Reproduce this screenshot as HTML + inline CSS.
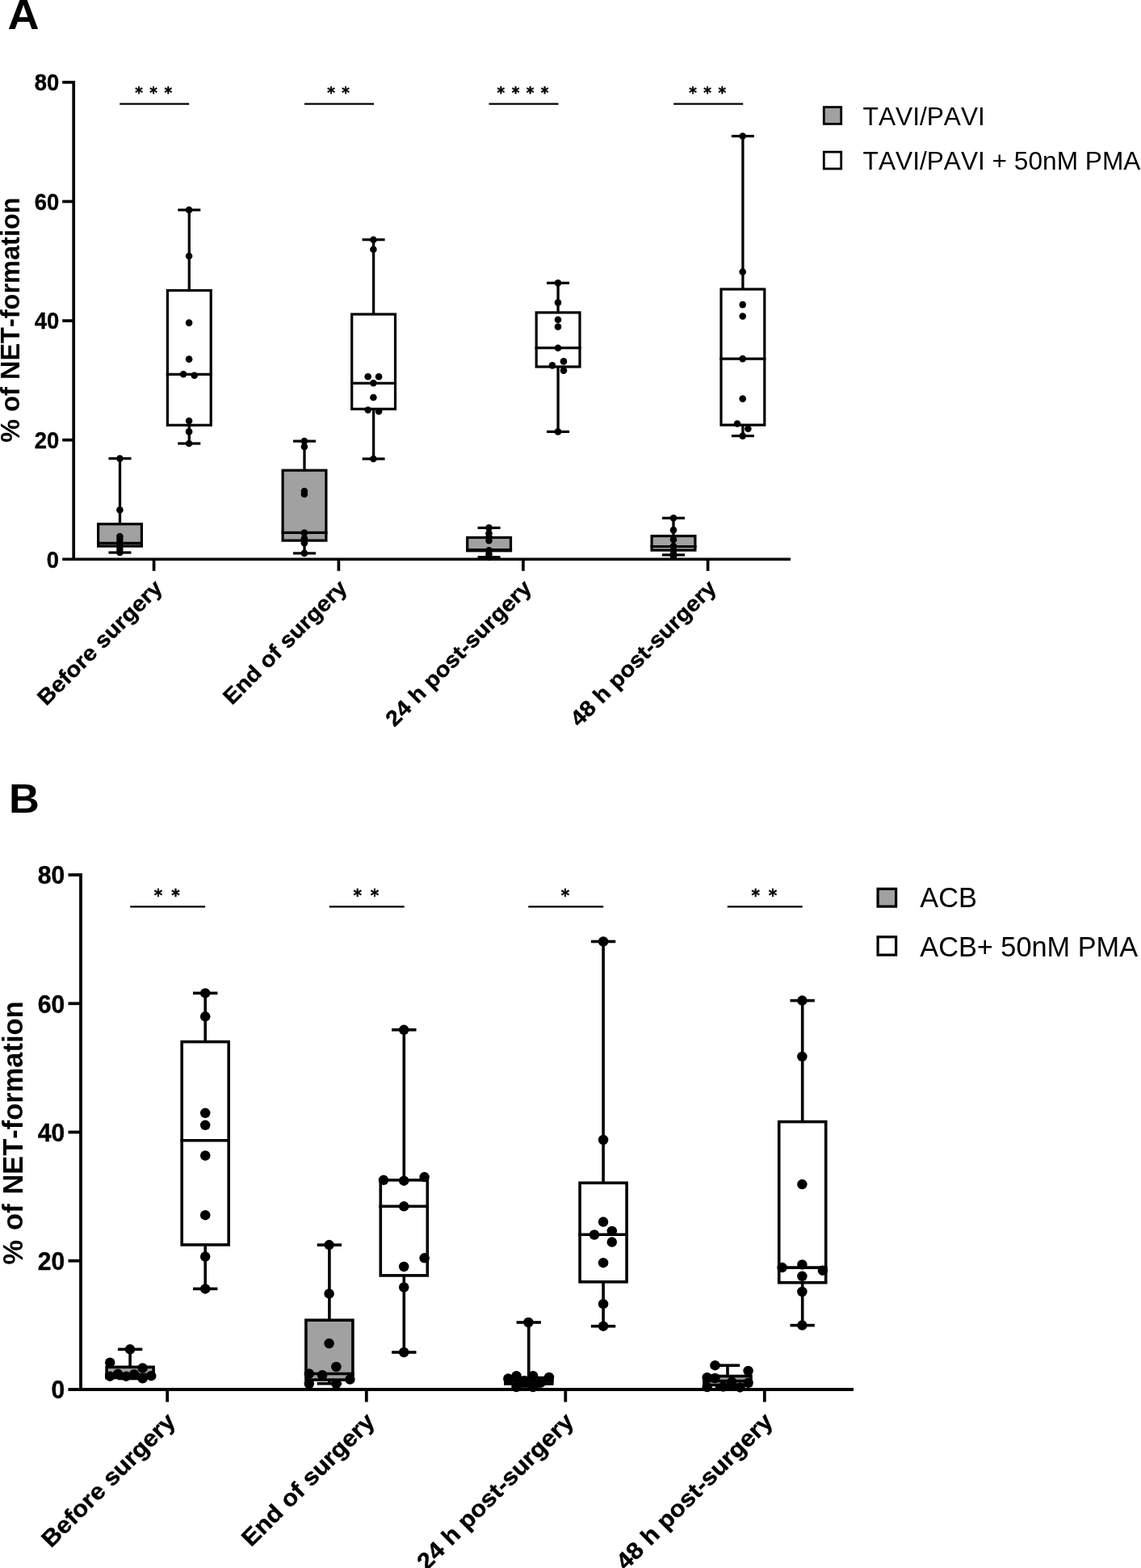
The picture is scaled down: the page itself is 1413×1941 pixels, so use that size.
<!DOCTYPE html>
<html lang="en">
<head>
<meta charset="utf-8">
<title>NET-formation box plots</title>
<style>
html,body{margin:0;padding:0;background:#fff;}
body{width:1413px;height:1941px;overflow:hidden;}
svg{display:block;}
text{font-family:"Liberation Sans",sans-serif;fill:#000;font-kerning:none;white-space:pre;}
.b{font-weight:bold;}
.xl{stroke:#000;stroke-width:0.4px;}
.tk{stroke:#000;stroke-width:0.4px;}
.star{font-family:"DejaVu Sans","Liberation Sans",sans-serif;font-weight:bold;stroke:#000;stroke-width:0.45px;}
g.ink{stroke:#000;fill:none;stroke-linecap:butt;}
g.dots circle{fill:#000;stroke:none;}
</style>
</head>
<body>
<svg width="1413" height="1941" viewBox="0 0 1413 1941">
<rect x="0" y="0" width="1413" height="1941" fill="#fff"/>

<!-- Panel A -->
<text class="b" font-size="52" transform="translate(9.6,36.3) scale(1.04,1)">A</text>
<g class="ink">
<line x1="91.2" y1="100" x2="91.2" y2="694.1" stroke-width="3.7"/>
<line x1="77.2" y1="692.25" x2="979" y2="692.25" stroke-width="3.7"/>
<line x1="77.2" y1="544.65" x2="91.2" y2="544.65" stroke-width="3.7"/>
<line x1="77.2" y1="397.05" x2="91.2" y2="397.05" stroke-width="3.7"/>
<line x1="77.2" y1="249.45" x2="91.2" y2="249.45" stroke-width="3.7"/>
<line x1="77.2" y1="101.85" x2="91.2" y2="101.85" stroke-width="3.7"/>
<line x1="190.6" y1="692.25" x2="190.6" y2="706.75" stroke-width="3.7"/>
<line x1="419.4" y1="692.25" x2="419.4" y2="706.75" stroke-width="3.7"/>
<line x1="647.9" y1="692.25" x2="647.9" y2="706.75" stroke-width="3.7"/>
<line x1="876.6" y1="692.25" x2="876.6" y2="706.75" stroke-width="3.7"/>
</g>
<text class="b tk" font-size="29.6" text-anchor="end" transform="translate(73.1,702.65) scale(0.925,1)">0</text>
<text class="b tk" font-size="29.6" text-anchor="end" transform="translate(73.1,555.05) scale(0.925,1)">20</text>
<text class="b tk" font-size="29.6" text-anchor="end" transform="translate(73.1,407.45) scale(0.925,1)">40</text>
<text class="b tk" font-size="29.6" text-anchor="end" transform="translate(73.1,259.85) scale(0.925,1)">60</text>
<text class="b tk" font-size="29.6" text-anchor="end" transform="translate(73.1,112.25) scale(0.925,1)">80</text>
<text class="b" font-size="32.5" text-anchor="middle" transform="translate(24.2,396) rotate(-90)">% of NET-formation</text>
<g class="ink">
<line x1="148.5" y1="567.6" x2="148.5" y2="684" stroke-width="3.3"/>
<line x1="134.5" y1="567.6" x2="162.5" y2="567.6" stroke-width="3.2"/>
<line x1="134.5" y1="684" x2="162.5" y2="684" stroke-width="3.2"/>
<rect x="121.6" y="648.7" width="53.8" height="27.4" fill="#a1a1a1" stroke-width="3.2"/>
<line x1="120" y1="672.3" x2="177" y2="672.3" stroke-width="3.2"/>
<line x1="234.3" y1="259.9" x2="234.3" y2="549" stroke-width="3.3"/>
<line x1="220.3" y1="259.9" x2="248.3" y2="259.9" stroke-width="3.2"/>
<line x1="220.3" y1="549" x2="248.3" y2="549" stroke-width="3.2"/>
<rect x="207.4" y="359.5" width="53.8" height="166.8" fill="#fff" stroke-width="3.2"/>
<line x1="205.8" y1="463.3" x2="262.8" y2="463.3" stroke-width="3.2"/>
<line x1="377" y1="546.1" x2="377" y2="684.9" stroke-width="3.3"/>
<line x1="363" y1="546.1" x2="391" y2="546.1" stroke-width="3.2"/>
<line x1="363" y1="684.9" x2="391" y2="684.9" stroke-width="3.2"/>
<rect x="350.1" y="582.2" width="53.8" height="86.9" fill="#a1a1a1" stroke-width="3.2"/>
<line x1="348.5" y1="659.3" x2="405.5" y2="659.3" stroke-width="3.2"/>
<line x1="462.6" y1="296.7" x2="462.6" y2="568" stroke-width="3.3"/>
<line x1="448.6" y1="296.7" x2="476.6" y2="296.7" stroke-width="3.2"/>
<line x1="448.6" y1="568" x2="476.6" y2="568" stroke-width="3.2"/>
<rect x="435.7" y="389" width="53.8" height="117.3" fill="#fff" stroke-width="3.2"/>
<line x1="434.1" y1="474.3" x2="491.1" y2="474.3" stroke-width="3.2"/>
<line x1="605.6" y1="653.4" x2="605.6" y2="689.7" stroke-width="3.3"/>
<line x1="591.6" y1="653.4" x2="619.6" y2="653.4" stroke-width="3.2"/>
<line x1="591.6" y1="689.7" x2="619.6" y2="689.7" stroke-width="3.2"/>
<rect x="578.7" y="665.4" width="53.8" height="16.4" fill="#a1a1a1" stroke-width="3.2"/>
<line x1="577.1" y1="680.5" x2="634.1" y2="680.5" stroke-width="3.2"/>
<line x1="691.1" y1="350.3" x2="691.1" y2="534.4" stroke-width="3.3"/>
<line x1="677.1" y1="350.3" x2="705.1" y2="350.3" stroke-width="3.2"/>
<line x1="677.1" y1="534.4" x2="705.1" y2="534.4" stroke-width="3.2"/>
<rect x="664.2" y="386.9" width="53.8" height="67.1" fill="#fff" stroke-width="3.2"/>
<line x1="662.6" y1="430.7" x2="719.6" y2="430.7" stroke-width="3.2"/>
<line x1="834" y1="641.3" x2="834" y2="686.9" stroke-width="3.3"/>
<line x1="820" y1="641.3" x2="848" y2="641.3" stroke-width="3.2"/>
<line x1="820" y1="686.9" x2="848" y2="686.9" stroke-width="3.2"/>
<rect x="807.1" y="663.5" width="53.8" height="17.6" fill="#a1a1a1" stroke-width="3.2"/>
<line x1="805.5" y1="676.5" x2="862.5" y2="676.5" stroke-width="3.2"/>
<line x1="919.9" y1="168.5" x2="919.9" y2="539.6" stroke-width="3.3"/>
<line x1="905.9" y1="168.5" x2="933.9" y2="168.5" stroke-width="3.2"/>
<line x1="905.9" y1="539.6" x2="933.9" y2="539.6" stroke-width="3.2"/>
<rect x="893" y="358" width="53.8" height="168.1" fill="#fff" stroke-width="3.2"/>
<line x1="891.4" y1="444.1" x2="948.4" y2="444.1" stroke-width="3.2"/>
</g>
<g class="dots">
<circle cx="148.4" cy="567.6" r="4.3"/>
<circle cx="148.4" cy="631.3" r="4.3"/>
<circle cx="148.4" cy="664" r="4.3"/>
<circle cx="148.4" cy="668" r="4.3"/>
<circle cx="148.4" cy="672" r="4.3"/>
<circle cx="148.4" cy="676" r="4.3"/>
<circle cx="148.4" cy="680" r="4.3"/>
<circle cx="148.4" cy="684" r="4.3"/>
<circle cx="234.1" cy="259.9" r="4.3"/>
<circle cx="234.1" cy="317" r="4.3"/>
<circle cx="234.1" cy="399.6" r="4.3"/>
<circle cx="234.1" cy="444.6" r="4.3"/>
<circle cx="227.1" cy="463.3" r="4.3"/>
<circle cx="240.7" cy="464.8" r="4.3"/>
<circle cx="234.1" cy="521" r="4.3"/>
<circle cx="234.1" cy="534.4" r="4.3"/>
<circle cx="234.1" cy="549" r="4.3"/>
<circle cx="376.9" cy="546.1" r="4.3"/>
<circle cx="376.9" cy="553" r="4.3"/>
<circle cx="376.9" cy="608.1" r="4.3"/>
<circle cx="376.9" cy="611.7" r="4.3"/>
<circle cx="376.9" cy="659.6" r="4.3"/>
<circle cx="376.9" cy="666.5" r="4.3"/>
<circle cx="376.9" cy="672.3" r="4.3"/>
<circle cx="376.9" cy="684.9" r="4.3"/>
<circle cx="462.4" cy="296.7" r="4.3"/>
<circle cx="462.4" cy="308.8" r="4.3"/>
<circle cx="455.7" cy="466.3" r="4.3"/>
<circle cx="469.1" cy="466.3" r="4.3"/>
<circle cx="462.4" cy="474.3" r="4.3"/>
<circle cx="462.4" cy="492" r="4.3"/>
<circle cx="455.7" cy="507.5" r="4.3"/>
<circle cx="469.1" cy="509.3" r="4.3"/>
<circle cx="462.4" cy="568" r="4.3"/>
<circle cx="605.5" cy="653.4" r="4.3"/>
<circle cx="605.5" cy="660.2" r="4.3"/>
<circle cx="605.5" cy="664.7" r="4.3"/>
<circle cx="605.5" cy="669.1" r="4.3"/>
<circle cx="605.5" cy="681.2" r="4.3"/>
<circle cx="605.5" cy="686" r="4.3"/>
<circle cx="605.5" cy="690" r="4.3"/>
<circle cx="691" cy="350.3" r="4.3"/>
<circle cx="691" cy="374.6" r="4.3"/>
<circle cx="691" cy="395.7" r="4.3"/>
<circle cx="691" cy="404.5" r="4.3"/>
<circle cx="691" cy="430.7" r="4.3"/>
<circle cx="698" cy="447.4" r="4.3"/>
<circle cx="684" cy="452.4" r="4.3"/>
<circle cx="698" cy="458.6" r="4.3"/>
<circle cx="691" cy="534.4" r="4.3"/>
<circle cx="834" cy="641.3" r="4.3"/>
<circle cx="834" cy="656.1" r="4.3"/>
<circle cx="834" cy="667.9" r="4.3"/>
<circle cx="834" cy="676" r="4.3"/>
<circle cx="834" cy="680.7" r="4.3"/>
<circle cx="834" cy="685.4" r="4.3"/>
<circle cx="834" cy="688.5" r="4.3"/>
<circle cx="919.7" cy="168.5" r="4.3"/>
<circle cx="919.7" cy="336.5" r="4.3"/>
<circle cx="919.7" cy="377.1" r="4.3"/>
<circle cx="919.7" cy="391.5" r="4.3"/>
<circle cx="919.7" cy="444.1" r="4.3"/>
<circle cx="919.7" cy="493.6" r="4.3"/>
<circle cx="913" cy="524.5" r="4.3"/>
<circle cx="926.4" cy="530.7" r="4.3"/>
<circle cx="919.7" cy="539.6" r="4.3"/>
</g>
<g class="ink">
<line x1="148.2" y1="128.6" x2="234.2" y2="128.6" stroke-width="2.1"/>
<line x1="377" y1="128.6" x2="463" y2="128.6" stroke-width="2.1"/>
<line x1="605.5" y1="128.6" x2="691.5" y2="128.6" stroke-width="2.1"/>
<line x1="834.2" y1="128.6" x2="920.2" y2="128.6" stroke-width="2.1"/>
</g>
<text class="star" x="172.15 181.17 190.2 199.22 208.25" y="0" font-size="18.4" text-anchor="middle" transform="translate(0,120.9) scale(1,1.05)">* * *</text>
<text class="star" x="409.98 419 428.02" y="0" font-size="18.4" text-anchor="middle" transform="translate(0,120.9) scale(1,1.05)">* *</text>
<text class="star" x="620.42 629.45 638.48 647.5 656.52 665.55 674.58" y="0" font-size="18.4" text-anchor="middle" transform="translate(0,120.9) scale(1,1.05)">* * * *</text>
<text class="star" x="858.15 867.18 876.2 885.23 894.25" y="0" font-size="18.4" text-anchor="middle" transform="translate(0,120.9) scale(1,1.05)">* * *</text>
<text class="b xl" font-size="27" text-anchor="end" transform="translate(202.6,729.3) rotate(-45) scale(1.07,1)">Before surgery</text>
<text class="b xl" font-size="27" text-anchor="end" transform="translate(431.4,729.3) rotate(-45) scale(1.07,1)">End of surgery</text>
<text class="b xl" font-size="27" text-anchor="end" transform="translate(659.9,729.3) rotate(-45) scale(1.07,1)">24 h post-surgery</text>
<text class="b xl" font-size="27" text-anchor="end" transform="translate(888.6,729.3) rotate(-45) scale(1.07,1)">48 h post-surgery</text>
<g class="ink">
<rect x="1020.3" y="132.6" width="21.4" height="20.8" fill="#a1a1a1" stroke-width="2.8"/>
<rect x="1020.3" y="188.1" width="21.4" height="20.8" fill="#fff" stroke-width="2.8"/>
</g>
<text x="1068.6" y="154.7" font-size="31.65">TAVI/PAVI</text>
<text x="1068.6" y="210.2" font-size="31.65">TAVI/PAVI + 50nM PMA</text>
<!-- Panel B -->
<text class="b" font-size="49.5" transform="translate(11,1006.2) scale(1.06,1)">B</text>
<g class="ink">
<line x1="100" y1="1081.1" x2="100" y2="1721.9" stroke-width="3.8"/>
<line x1="84.5" y1="1720" x2="1057" y2="1720" stroke-width="3.8"/>
<line x1="84.5" y1="1560.75" x2="100" y2="1560.75" stroke-width="3.8"/>
<line x1="84.5" y1="1401.5" x2="100" y2="1401.5" stroke-width="3.8"/>
<line x1="84.5" y1="1242.25" x2="100" y2="1242.25" stroke-width="3.8"/>
<line x1="84.5" y1="1083" x2="100" y2="1083" stroke-width="3.8"/>
<line x1="207.2" y1="1720" x2="207.2" y2="1735.5" stroke-width="3.8"/>
<line x1="453.8" y1="1720" x2="453.8" y2="1735.5" stroke-width="3.8"/>
<line x1="700.3" y1="1720" x2="700.3" y2="1735.5" stroke-width="3.8"/>
<line x1="946.8" y1="1720" x2="946.8" y2="1735.5" stroke-width="3.8"/>
</g>
<text class="b tk" font-size="32" text-anchor="end" transform="translate(80.2,1731.46) scale(0.94,1)">0</text>
<text class="b tk" font-size="32" text-anchor="end" transform="translate(80.2,1572.21) scale(0.94,1)">20</text>
<text class="b tk" font-size="32" text-anchor="end" transform="translate(80.2,1412.96) scale(0.94,1)">40</text>
<text class="b tk" font-size="32" text-anchor="end" transform="translate(80.2,1253.71) scale(0.94,1)">60</text>
<text class="b tk" font-size="32" text-anchor="end" transform="translate(80.2,1094.46) scale(0.94,1)">80</text>
<text class="b" font-size="36" text-anchor="middle" style="word-spacing:2.4px" transform="translate(28.3,1402.4) rotate(-90) scale(0.957,1)">% of NET-formation</text>
<g class="ink">
<line x1="161.1" y1="1670.3" x2="161.1" y2="1706.5" stroke-width="3.6"/>
<line x1="145.9" y1="1670.3" x2="176.3" y2="1670.3" stroke-width="3.6"/>
<line x1="145.9" y1="1706.5" x2="176.3" y2="1706.5" stroke-width="3.6"/>
<rect x="132.1" y="1692.3" width="58" height="13.2" fill="#a1a1a1" stroke-width="3.6"/>
<line x1="130.3" y1="1701.5" x2="191.9" y2="1701.5" stroke-width="3.6"/>
<line x1="254.2" y1="1229.4" x2="254.2" y2="1595.4" stroke-width="3.6"/>
<line x1="239" y1="1229.4" x2="269.4" y2="1229.4" stroke-width="3.6"/>
<line x1="239" y1="1595.4" x2="269.4" y2="1595.4" stroke-width="3.6"/>
<rect x="225.2" y="1289.6" width="58" height="251.3" fill="#fff" stroke-width="3.6"/>
<line x1="223.4" y1="1411.8" x2="285" y2="1411.8" stroke-width="3.6"/>
<line x1="407.9" y1="1541.1" x2="407.9" y2="1712.7" stroke-width="3.6"/>
<line x1="392.7" y1="1541.1" x2="423.1" y2="1541.1" stroke-width="3.6"/>
<line x1="392.7" y1="1712.7" x2="423.1" y2="1712.7" stroke-width="3.6"/>
<rect x="378.9" y="1634.2" width="58" height="73.9" fill="#a1a1a1" stroke-width="3.6"/>
<line x1="377.1" y1="1700.5" x2="438.7" y2="1700.5" stroke-width="3.6"/>
<line x1="500.3" y1="1274.8" x2="500.3" y2="1674" stroke-width="3.6"/>
<line x1="485.1" y1="1274.8" x2="515.5" y2="1274.8" stroke-width="3.6"/>
<line x1="485.1" y1="1674" x2="515.5" y2="1674" stroke-width="3.6"/>
<rect x="471.3" y="1460.8" width="58" height="118.1" fill="#fff" stroke-width="3.6"/>
<line x1="469.5" y1="1493.3" x2="531.1" y2="1493.3" stroke-width="3.6"/>
<line x1="654.8" y1="1637" x2="654.8" y2="1716" stroke-width="3.6"/>
<line x1="639.6" y1="1637" x2="670" y2="1637" stroke-width="3.6"/>
<line x1="639.6" y1="1716" x2="670" y2="1716" stroke-width="3.6"/>
<rect x="625.8" y="1705.5" width="58" height="7.5" fill="#a1a1a1" stroke-width="3.6"/>
<line x1="624" y1="1709.5" x2="685.6" y2="1709.5" stroke-width="3.6"/>
<line x1="747.1" y1="1165.5" x2="747.1" y2="1641.7" stroke-width="3.6"/>
<line x1="731.9" y1="1165.5" x2="762.3" y2="1165.5" stroke-width="3.6"/>
<line x1="731.9" y1="1641.7" x2="762.3" y2="1641.7" stroke-width="3.6"/>
<rect x="718.1" y="1464.3" width="58" height="122.5" fill="#fff" stroke-width="3.6"/>
<line x1="716.3" y1="1528.3" x2="777.9" y2="1528.3" stroke-width="3.6"/>
<line x1="901" y1="1690.2" x2="901" y2="1716.5" stroke-width="3.6"/>
<line x1="885.8" y1="1690.2" x2="916.2" y2="1690.2" stroke-width="3.6"/>
<line x1="885.8" y1="1716.5" x2="916.2" y2="1716.5" stroke-width="3.6"/>
<rect x="872" y="1703.5" width="58" height="11" fill="#a1a1a1" stroke-width="3.6"/>
<line x1="870.2" y1="1709.5" x2="931.8" y2="1709.5" stroke-width="3.6"/>
<line x1="993.7" y1="1238.6" x2="993.7" y2="1640.6" stroke-width="3.6"/>
<line x1="978.5" y1="1238.6" x2="1008.9" y2="1238.6" stroke-width="3.6"/>
<line x1="978.5" y1="1640.6" x2="1008.9" y2="1640.6" stroke-width="3.6"/>
<rect x="964.7" y="1388.6" width="58" height="199.1" fill="#fff" stroke-width="3.6"/>
<line x1="962.9" y1="1569.1" x2="1024.5" y2="1569.1" stroke-width="3.6"/>
</g>
<g class="dots">
<circle cx="161" cy="1670.3" r="6.25"/>
<circle cx="136.2" cy="1686.7" r="6.25"/>
<circle cx="176.6" cy="1693.5" r="6.25"/>
<circle cx="136.2" cy="1703.7" r="6.25"/>
<circle cx="146" cy="1700.8" r="6.25"/>
<circle cx="156.2" cy="1703.7" r="6.25"/>
<circle cx="166.1" cy="1701.2" r="6.25"/>
<circle cx="176.6" cy="1706.3" r="6.25"/>
<circle cx="187.2" cy="1703.2" r="6.25"/>
<circle cx="254.2" cy="1229.4" r="6.25"/>
<circle cx="254.2" cy="1258.3" r="6.25"/>
<circle cx="254.2" cy="1377.8" r="6.25"/>
<circle cx="254.2" cy="1392.8" r="6.25"/>
<circle cx="254.2" cy="1430.5" r="6.25"/>
<circle cx="254.2" cy="1504.2" r="6.25"/>
<circle cx="254.2" cy="1555.6" r="6.25"/>
<circle cx="254.2" cy="1595.4" r="6.25"/>
<circle cx="407.6" cy="1541.1" r="6.25"/>
<circle cx="407.6" cy="1601.4" r="6.25"/>
<circle cx="407.6" cy="1663.1" r="6.25"/>
<circle cx="416.4" cy="1692" r="6.25"/>
<circle cx="382.8" cy="1700.5" r="6.25"/>
<circle cx="399.1" cy="1702.2" r="6.25"/>
<circle cx="433.4" cy="1707.6" r="6.25"/>
<circle cx="382.8" cy="1713" r="6.25"/>
<circle cx="416.4" cy="1713" r="6.25"/>
<circle cx="500.2" cy="1274.8" r="6.25"/>
<circle cx="475" cy="1460.8" r="6.25"/>
<circle cx="500.2" cy="1461.7" r="6.25"/>
<circle cx="525.6" cy="1457.1" r="6.25"/>
<circle cx="500.2" cy="1493.3" r="6.25"/>
<circle cx="525.6" cy="1557.3" r="6.25"/>
<circle cx="500.2" cy="1568" r="6.25"/>
<circle cx="500.2" cy="1593.5" r="6.25"/>
<circle cx="500.2" cy="1674" r="6.25"/>
<circle cx="654.4" cy="1637" r="6.25"/>
<circle cx="629.3" cy="1706.6" r="6.25"/>
<circle cx="639.5" cy="1703.2" r="6.25"/>
<circle cx="660.1" cy="1703.2" r="6.25"/>
<circle cx="680" cy="1705" r="6.25"/>
<circle cx="649.3" cy="1709.3" r="6.25"/>
<circle cx="669.7" cy="1711.6" r="6.25"/>
<circle cx="639.5" cy="1717.1" r="6.25"/>
<circle cx="660.1" cy="1717.1" r="6.25"/>
<circle cx="747.1" cy="1165.5" r="6.25"/>
<circle cx="747.1" cy="1411" r="6.25"/>
<circle cx="747.1" cy="1512.6" r="6.25"/>
<circle cx="757.8" cy="1523.9" r="6.25"/>
<circle cx="736" cy="1528.5" r="6.25"/>
<circle cx="757.8" cy="1537.6" r="6.25"/>
<circle cx="747.1" cy="1563.2" r="6.25"/>
<circle cx="747.1" cy="1614.2" r="6.25"/>
<circle cx="747.1" cy="1641.7" r="6.25"/>
<circle cx="885.5" cy="1690.2" r="6.25"/>
<circle cx="926.6" cy="1697" r="6.25"/>
<circle cx="875.7" cy="1705.2" r="6.25"/>
<circle cx="885.5" cy="1706" r="6.25"/>
<circle cx="875.7" cy="1717.1" r="6.25"/>
<circle cx="895.7" cy="1716.6" r="6.25"/>
<circle cx="906.2" cy="1710.6" r="6.25"/>
<circle cx="916.4" cy="1717.4" r="6.25"/>
<circle cx="926.6" cy="1711.8" r="6.25"/>
<circle cx="993.4" cy="1238.6" r="6.25"/>
<circle cx="993.4" cy="1307.9" r="6.25"/>
<circle cx="993.4" cy="1466.1" r="6.25"/>
<circle cx="968.6" cy="1569.1" r="6.25"/>
<circle cx="993.4" cy="1565.4" r="6.25"/>
<circle cx="1018.9" cy="1572.7" r="6.25"/>
<circle cx="993.4" cy="1579.8" r="6.25"/>
<circle cx="993.4" cy="1599" r="6.25"/>
<circle cx="993.4" cy="1640.6" r="6.25"/>
</g>
<g class="ink">
<line x1="161.2" y1="1122.4" x2="254.1" y2="1122.4" stroke-width="2.3"/>
<line x1="407.8" y1="1122.4" x2="500.7" y2="1122.4" stroke-width="2.3"/>
<line x1="654.3" y1="1122.4" x2="747.2" y2="1122.4" stroke-width="2.3"/>
<line x1="900.8" y1="1122.4" x2="993.7" y2="1122.4" stroke-width="2.3"/>
</g>
<text class="star" x="196.1 206.8 217.5" y="0" font-size="20.0" text-anchor="middle" transform="translate(0,1116.4) scale(1,1.08)">* *</text>
<text class="star" x="442.7 453.4 464.1" y="0" font-size="20.0" text-anchor="middle" transform="translate(0,1116.4) scale(1,1.08)">* *</text>
<text class="star" x="699.9" y="0" font-size="20.0" text-anchor="middle" transform="translate(0,1116.4) scale(1,1.08)">*</text>
<text class="star" x="935.7 946.4 957.1" y="0" font-size="20.0" text-anchor="middle" transform="translate(0,1116.4) scale(1,1.08)">* *</text>
<text class="b xl" font-size="29" text-anchor="end" transform="translate(219,1761.2) rotate(-45) scale(1.068,1)">Before surgery</text>
<text class="b xl" font-size="29" text-anchor="end" transform="translate(465.6,1761.2) rotate(-45) scale(1.068,1)">End of surgery</text>
<text class="b xl" font-size="29" text-anchor="end" transform="translate(712.1,1761.2) rotate(-45) scale(1.068,1)">24 h post-surgery</text>
<text class="b xl" font-size="29" text-anchor="end" transform="translate(958.6,1761.2) rotate(-45) scale(1.068,1)">48 h post-surgery</text>
<g class="ink">
<rect x="1087.1" y="1100.3" width="22.5" height="21.8" fill="#a1a1a1" stroke-width="3.2"/>
<rect x="1087.1" y="1159.8" width="22.5" height="22.3" fill="#fff" stroke-width="3.2"/>
</g>
<text x="1139.3" y="1123.4" font-size="34.3">ACB</text>
<text x="1139.3" y="1183.7" font-size="34.3">ACB+ 50nM PMA</text>
</svg>
</body>
</html>
